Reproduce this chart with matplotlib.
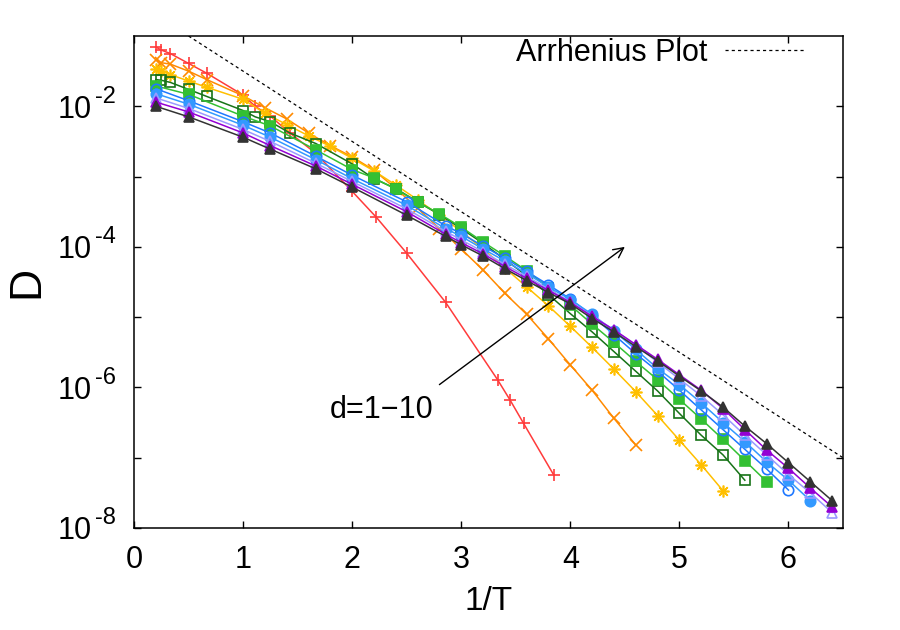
import numpy as np
import matplotlib
matplotlib.use("Agg")
import matplotlib.pyplot as plt
from matplotlib.ticker import FixedLocator, NullLocator

plt.rcParams['font.family'] = ['Liberation Sans', 'DejaVu Sans']

# ---------------- data (x = 1/T, values = log10 D) ----------------
x_d1 = [0.2, 0.25, 0.333, 0.5, 0.667, 1.0, 1.111, 1.25, 1.429, 1.667, 2.0, 2.222,
        2.5, 2.857, 3.333, 3.448, 3.571, 3.846]
logD_d1 = [-1.156, -1.20, -1.25, -1.39, -1.53, -1.84, -2.00, -2.14, -2.38, -2.67, -3.21,
           -3.58, -4.09, -4.79, -5.89, -6.18, -6.51, -7.24]

x_d2 = [0.2, 0.25, 0.333, 0.5, 0.667, 1.0, 1.2, 1.4, 1.6, 1.8, 2.0, 2.2, 2.4, 2.6, 2.8,
        3.0, 3.2, 3.4, 3.6, 3.8, 4.0, 4.2, 4.4, 4.6]
logD_d2 = [-1.34, -1.38, -1.40, -1.50, -1.62, -1.85, -2.02, -2.18, -2.38, -2.56, -2.72,
           -2.91, -3.17, -3.45, -3.74, -4.03, -4.33, -4.66, -4.96, -5.31, -5.68, -6.04,
           -6.44, -6.82]

x_d3 = [0.2, 0.25, 0.333, 0.5, 0.667, 1.0, 1.2, 1.4, 1.6, 1.8, 2.0, 2.2, 2.4, 2.6, 2.8,
        3.0, 3.2, 3.4, 3.6, 3.8, 4.0, 4.2, 4.4, 4.6, 4.8, 5.0, 5.2, 5.4]
logD_d3 = [-1.47, -1.50, -1.55, -1.64, -1.73, -1.90, -2.10, -2.26, -2.42, -2.57, -2.74,
           -2.92, -3.12, -3.33, -3.55, -3.78, -4.03, -4.30, -4.57, -4.84, -5.13, -5.43,
           -5.74, -6.06, -6.40, -6.75, -7.10, -7.47]

x_d4 = [0.2, 0.25, 0.333, 0.5, 0.667, 1.0, 1.111, 1.25, 1.429, 1.667, 2.0, 2.2, 2.4, 2.6,
        2.8, 3.0, 3.2, 3.4, 3.6, 3.8, 4.0, 4.2, 4.4, 4.6, 4.8, 5.0, 5.2, 5.4, 5.6]
logD_d4 = [-1.62, -1.63, -1.66, -1.76, -1.86, -2.06, -2.15, -2.22, -2.38, -2.53, -2.82,
           -3.03, -3.17, -3.36, -3.54, -3.74, -3.95, -4.18, -4.41, -4.68, -4.95, -5.21,
           -5.49, -5.77, -6.05, -6.37, -6.68, -6.96, -7.32]

x_d5 = [0.2, 0.5, 1.0, 1.25, 1.667, 2.0, 2.2, 2.4, 2.6, 2.8, 3.0, 3.2, 3.4, 3.6, 3.8,
        4.0, 4.2, 4.4, 4.6, 4.8, 5.0, 5.2, 5.4, 5.6, 5.8]
logD_d5 = [-1.71, -1.83, -2.14, -2.28, -2.62, -2.90, -3.02, -3.18, -3.36, -3.53, -3.72,
           -3.93, -4.13, -4.34, -4.58, -4.83, -5.10, -5.36, -5.63, -5.89, -6.17, -6.45,
           -6.74, -7.04, -7.34]

x_d6 = [0.2, 0.5, 1.0, 1.25, 1.667, 2.0, 2.5, 2.857, 3.0, 3.2, 3.4, 3.6, 3.8, 4.0, 4.2,
        4.4, 4.6, 4.8, 5.0, 5.2, 5.4, 5.6, 5.8, 6.0]
logD_d6 = [-1.75, -1.92, -2.22, -2.38, -2.71, -2.98, -3.36, -3.70, -3.81, -3.99, -4.16,
           -4.35, -4.54, -4.74, -4.98, -5.25, -5.52, -5.77, -6.04, -6.32, -6.60, -6.88,
           -7.16, -7.46]

x_d7 = [0.2, 0.5, 1.0, 1.25, 1.667, 2.0, 2.5, 2.857, 3.0, 3.2, 3.4, 3.6, 3.8, 4.0, 4.2,
        4.4, 4.6, 4.8, 5.0, 5.2, 5.4, 5.6, 5.8, 6.0, 6.2]
logD_d7 = [-1.82, -1.97, -2.27, -2.44, -2.76, -3.03, -3.41, -3.74, -3.85, -4.03, -4.20,
           -4.38, -4.57, -4.75, -4.96, -5.20, -5.46, -5.73, -5.96, -6.22, -6.50, -6.77,
           -7.06, -7.32, -7.61]

x_d8 = [0.2, 0.5, 1.0, 1.25, 1.667, 2.0, 2.5, 2.857, 3.0, 3.2, 3.4, 3.6, 3.8, 4.0, 4.2,
        4.4, 4.6, 4.8, 5.0, 5.2, 5.4, 5.6, 5.8, 6.0, 6.2, 6.4]
logD_d8 = [-1.88, -2.03, -2.33, -2.50, -2.81, -3.07, -3.46, -3.78, -3.90, -4.07, -4.25,
           -4.42, -4.60, -4.78, -4.98, -5.18, -5.40, -5.64, -5.88, -6.12, -6.39, -6.68,
           -6.96, -7.24, -7.50, -7.78]

x_d9 = [0.2, 0.5, 1.0, 1.25, 1.667, 2.0, 2.5, 2.857, 3.0, 3.2, 3.4, 3.6, 3.8, 4.0, 4.2,
        4.4, 4.6, 4.8, 5.0, 5.2, 5.4, 5.6, 5.8, 6.0, 6.2, 6.4]
logD_d9 = [-1.94, -2.08, -2.38, -2.56, -2.85, -3.11, -3.50, -3.82, -3.94, -4.10, -4.28,
           -4.45, -4.62, -4.79, -4.99, -5.18, -5.39, -5.60, -5.82, -6.04, -6.30, -6.60,
           -6.89, -7.15, -7.43, -7.70]

x_d10 = [0.2, 0.5, 1.0, 1.25, 1.667, 2.0, 2.5, 2.857, 3.0, 3.2, 3.4, 3.6, 3.8, 4.0, 4.2,
         4.4, 4.6, 4.8, 5.0, 5.2, 5.4, 5.6, 5.8, 6.0, 6.2, 6.4]
logD_d10 = [-2.00, -2.15, -2.44, -2.61, -2.89, -3.15, -3.55, -3.85, -3.97, -4.13, -4.31,
            -4.48, -4.65, -4.81, -5.02, -5.21, -5.42, -5.62, -5.84, -6.05, -6.28, -6.55,
            -6.80, -7.07, -7.34, -7.61]

arrhenius_x = [0.5, 6.5]
arrhenius_logD = [-1.0, -7.0]

x_ticks = [0, 1, 2, 3, 4, 5, 6]
y_tick_exponents = [-8, -7, -6, -5, -4, -3, -2]
y_label_exponents = [-8, -6, -4, -2]
legend_label = "Arrhenius Plot"
annotation_text = "d=1\u221210"
arrow_start = (2.8, -5.96)
arrow_end = (4.5, -4.0)
annotation_pos = (1.795, -6.32)

# ---------------- styles ----------------
series = [
    (x_d1, logD_d1, '#ff3b3b', '+', 'full'),
    (x_d2, logD_d2, '#ff8a00', 'x', 'full'),
    (x_d3, logD_d3, '#ffbf00', (8, 2, 0), 'full'),
    (x_d4, logD_d4, '#177317', 's', 'none'),
    (x_d5, logD_d5, '#33c033', 's', 'full'),
    (x_d6, logD_d6, '#1e78ff', 'o', 'none'),
    (x_d7, logD_d7, '#3399ff', 'o', 'full'),
    (x_d8, logD_d8, '#9999ff', '^', 'none'),
    (x_d9, logD_d9, '#9400d3', '^', 'full'),
    (x_d10, logD_d10, '#333333', '^', 'full'),
]

fig = plt.figure(figsize=(9, 6.3), dpi=100)
ax_left, ax_right, ax_top, ax_bottom = 134, 843, 36, 528
ax = fig.add_axes([ax_left / 900, 1 - ax_bottom / 630, (ax_right - ax_left) / 900,
                   (ax_bottom - ax_top) / 630])
ax_w = ax_right - ax_left

for xs, ls, col, mk, fill in series:
    ys = np.power(10.0, np.array(ls))
    ms = 8.5 if mk in ('+', 'x') or isinstance(mk, tuple) else 7.5
    ax.plot(xs, ys, color=col, lw=1.1, marker=mk, ms=ms,
            mfc=('none' if fill == 'none' else col), mec=col, mew=1.2)

arr_line, = ax.plot(arrhenius_x, np.power(10.0, np.array(arrhenius_logD)),
                    color='black', lw=0.9, ls=(0, (2.5, 2.5)), label=legend_label)

ax.annotate('', xy=(arrow_end[0], 10 ** arrow_end[1]),
            xytext=(arrow_start[0], 10 ** arrow_start[1]),
            arrowprops=dict(arrowstyle='->', color='black', lw=1.0,
                            mutation_scale=18, shrinkA=0, shrinkB=0))
ax.text(annotation_pos[0], 10 ** annotation_pos[1], annotation_text,
        fontsize=22, ha='left', va='center')

ax.set_yscale('log')
ax.set_xlim(0, 6.5)
ax.set_ylim(1e-8, 1e-1)

ax.xaxis.set_major_locator(FixedLocator(x_ticks))
ax.set_xticklabels([str(t) for t in x_ticks])
ax.yaxis.set_major_locator(FixedLocator([10.0 ** e for e in y_tick_exponents]))
ax.yaxis.set_minor_locator(NullLocator())
ax.set_yticklabels(['' for e in y_tick_exponents])

# y tick labels in gnuplot style: "10" with a hyphen superscript
ytrans = ax.get_yaxis_transform()
for e in y_label_exponents:
    ax.annotate('10', xy=((92 - ax_left) / ax_w, 10.0 ** e), xycoords=ytrans,
                xytext=(0, -2.5), textcoords='offset points',
                ha='right', va='center', fontsize=22, annotation_clip=False)
    ax.annotate('-%d' % abs(e), xy=((116 - ax_left) / ax_w, 10.0 ** e), xycoords=ytrans,
                xytext=(0, 7), textcoords='offset points',
                ha='right', va='center', fontsize=17, annotation_clip=False)

ax.tick_params(axis='both', which='major', direction='in', length=5, width=1.0,
               top=True, right=True, labelsize=22)
ax.tick_params(axis='x', pad=12)
for sp in ax.spines.values():
    sp.set_linewidth(1.1)

ax.set_xlabel('1/T', fontsize=24, labelpad=8)
fig.text(27 / 900, 1 - 282 / 630, 'D', rotation=90, ha='center', va='center',
         fontsize=32)

ax.legend(handles=[arr_line], loc='center right', bbox_to_anchor=(0.946, 0.9655),
          frameon=False, markerfirst=False, fontsize=22, handlelength=2.6,
          handletextpad=0.6, borderpad=0, borderaxespad=0)

fig.savefig('out.png', dpi=100)
